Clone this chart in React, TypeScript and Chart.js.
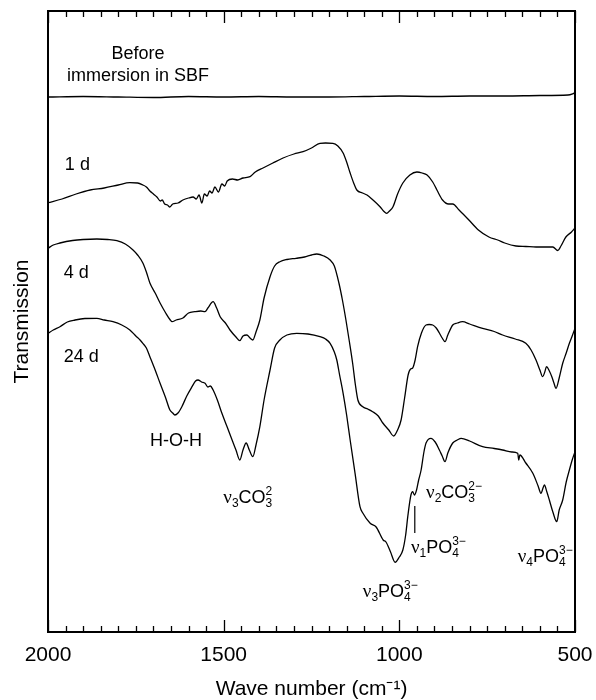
import React, { useEffect, useRef } from 'react';
import { Chart, registerables } from 'chart.js';

Chart.register(...registerables);

// Wavenumber (cm-1) and relative transmission (arbitrary units, offset curves)
const beforeWn = [2000, 1900, 1800, 1700, 1600, 1500, 1400, 1300, 1200, 1100, 1000, 900, 800, 700, 600, 520, 500];
const beforeT = [535, 535.5, 535, 534.5, 535.5, 535, 535.5, 535, 535, 535.5, 536, 535.5, 536, 536, 536.5, 537, 539];

const d1Wn = [2000, 1960, 1920, 1880, 1840, 1800, 1767, 1745, 1730, 1720, 1710, 1700, 1690, 1680, 1675, 1668, 1660, 1653, 1645, 1630, 1616, 1600, 1587, 1578, 1570, 1562, 1555, 1547, 1540, 1533, 1525, 1515, 1505, 1497, 1490, 1475, 1460, 1445, 1425, 1410, 1388, 1360, 1331, 1300, 1274, 1250, 1226, 1210, 1189, 1175, 1160, 1150, 1140, 1130, 1121, 1105, 1092, 1075, 1055, 1045, 1036, 1028, 1018, 1005, 990, 970, 950, 935, 921, 905, 893, 877, 860, 848, 830, 802, 775, 745, 720, 700, 668, 640, 611, 590, 563, 549, 540, 526, 510, 500];
const d1T = [429.3, 433, 438, 442, 444, 447, 449.3, 449, 447, 445, 441, 438, 435, 431, 432, 428, 427, 425, 428, 429, 432, 434, 435, 433, 437, 429, 438, 436, 441, 439, 445, 440, 448, 446, 451, 453, 452, 454, 455.3, 460, 464, 469, 474, 478, 480.3, 484, 488.7, 489, 488.7, 486, 479, 470, 459, 449, 442, 439, 437, 432, 425.3, 421, 418.7, 421, 425.3, 438, 449, 457, 460, 459, 457, 450, 442, 432, 428, 428, 422, 412, 402, 395, 392, 389, 386, 385.5, 385, 385, 385, 381.5, 386, 395, 400, 404];

const d4Wn = [2000, 1985, 1966, 1930, 1900, 1861, 1830, 1804, 1780, 1758, 1745, 1730, 1720, 1710, 1695, 1681, 1665, 1652, 1647, 1635, 1616, 1600, 1582, 1565, 1553, 1545, 1530, 1520, 1510, 1495, 1482, 1465, 1454, 1445, 1434, 1425, 1417, 1408, 1397, 1385, 1368, 1355, 1340, 1320, 1294, 1270, 1250, 1235, 1215, 1197, 1185, 1172, 1162, 1152, 1142, 1133, 1125, 1118, 1104, 1090, 1076, 1060, 1047, 1030, 1016, 1005, 995, 985, 975, 968, 962, 955, 948, 937, 924, 915, 905, 895, 886, 878, 870, 862, 848, 835, 820, 800, 763, 730, 706, 670, 640, 625, 611, 600, 592, 586, 581, 573, 566, 560, 554, 545, 535, 525, 516, 508, 500];
const d4T = [383.7, 387, 389, 391.5, 392.5, 393, 392.5, 391.3, 388, 382, 377, 369, 360, 349, 339, 329, 319, 312, 310.3, 312, 314, 319, 320.3, 321, 320.3, 324, 330.3, 324, 315.3, 309, 302, 295, 291.3, 296, 297, 294, 292, 300, 312, 334, 355.3, 366, 370.3, 372.5, 373.7, 375, 377, 378, 376, 372, 366, 349, 332, 312, 290, 269, 247, 232, 225.3, 223, 220.3, 216, 209, 202, 196, 202, 212, 234, 257, 263, 264, 272, 285.3, 299, 307, 307.5, 307, 304, 299, 294, 290.3, 297, 307, 309, 310.3, 308, 303.7, 300.5, 297, 293, 288.7, 282, 272, 262, 255.3, 260, 265.3, 261, 255.3, 249, 243.7, 254, 268.7, 279, 288.7, 296, 303.7];

const d24Wn = [2000, 1985, 1966, 1945, 1923, 1895, 1861, 1840, 1815, 1790, 1767, 1750, 1738, 1730, 1720, 1710, 1695, 1681, 1665, 1653, 1645, 1639, 1630, 1619, 1605, 1590, 1580, 1573, 1563, 1553, 1545, 1538, 1530, 1518, 1505, 1490, 1476, 1465, 1454, 1445, 1436, 1427, 1417, 1408, 1397, 1385, 1368, 1355, 1340, 1320, 1292, 1260, 1226, 1210, 1197, 1185, 1178, 1170, 1160, 1150, 1140, 1126, 1112, 1104, 1083, 1066, 1046, 1038, 1025, 1012, 1000, 990, 982, 976, 967, 962, 957, 951, 945, 938, 930, 924, 910, 898, 886, 878, 870, 862, 848, 835, 824, 800, 763, 730, 706, 680, 663, 660, 657, 640, 620, 605, 597, 590, 587, 580, 573, 563, 552, 545, 535, 525, 516, 508, 500];
const d24T = [298.7, 302, 305.3, 310, 312, 313.5, 313.7, 312, 310.3, 307, 302, 296, 292, 288.7, 284, 275.3, 262, 248.7, 234, 222, 219, 217, 219, 225.3, 236, 245.3, 251, 252, 250, 248.7, 245, 246, 242, 232, 218.7, 205, 192, 182, 172, 182, 189, 182, 175.3, 187, 205.3, 232, 262, 284, 292, 297, 298.7, 298, 295.3, 293, 288.7, 280, 272, 257, 238.7, 217, 192, 158.7, 125.3, 119, 108.7, 105, 92, 90, 80, 69.7, 75, 82, 97, 115.3, 137, 140.3, 137, 142, 152, 162, 180, 189, 193.7, 190, 182, 176, 170.3, 179, 189, 192, 193.7, 191, 185.3, 183.5, 182, 180, 178.7, 172, 177, 169, 158.7, 146, 138.7, 145, 147, 140, 132, 120, 110.3, 122, 132, 150, 162, 172, 180.3];

const xTickValues = [2000, 1500, 1000, 500];

const SANS = '"Liberation Sans", Arial, Helvetica, sans-serif';
const SERIF = '"Liberation Serif", "Times New Roman", serif';

// Plain text labels (anchor in data coordinates)
const textLabels = [
  { text: 'Before', wn: 1744, t: 573.5, align: 'center' },
  { text: 'immersion in SBF', wn: 1744, t: 551, align: 'center' },
  { text: '1 d', wn: 1952, t: 462, align: 'left' },
  { text: '4 d', wn: 1955, t: 353.7, align: 'left' },
  { text: '24 d', wn: 1955, t: 270.3, align: 'left' },
  { text: 'H-O-H', wn: 1636, t: 186, align: 'center' },
];

// Chemical band labels: ν with subscript, ion with subscript/superscript
const chemLabels = [
  { wn: 1501, t: 128.7, n: '3', ion: 'CO', sub: '3', sup: '2' },
  { wn: 924, t: 133.7, n: '2', ion: 'CO', sub: '3', sup: '2−' },
  { wn: 967, t: 78.7, n: '1', ion: 'PO', sub: '4', sup: '3−' },
  { wn: 663, t: 70.3, n: '4', ion: 'PO', sub: '4', sup: '3−' },
  { wn: 1104, t: 35.3, n: '3', ion: 'PO', sub: '4', sup: '3−' },
];

const markerWn = 956;
const markerT = [126, 99];

function toXY(xs: number[], ys: number[]) {
  const n = Math.min(xs.length, ys.length);
  const out: { x: number; y: number }[] = [];
  for (let i = 0; i < n; i++) out.push({ x: xs[i], y: ys[i] });
  return out;
}

const framePlugin = {
  id: 'framePlugin',
  afterDraw(chart: any) {
    const { ctx, chartArea, scales } = chart;
    const xs = scales.x;
    const ys = scales.y;
    const { left, right, top, bottom } = chartArea;
    ctx.save();
    ctx.strokeStyle = '#000';
    ctx.lineWidth = 2;
    ctx.strokeRect(left, top, right - left, bottom - top);

    // inward ticks every 50 cm-1 on top and bottom
    ctx.lineWidth = 1.3;
    ctx.beginPath();
    for (let v = 500; v <= 2000; v += 50) {
      const px = Math.round(xs.getPixelForValue(v)) + 0.5;
      const len = v % 500 === 0 ? 12 : 6;
      ctx.moveTo(px, bottom);
      ctx.lineTo(px, bottom - len);
      ctx.moveTo(px, top);
      ctx.lineTo(px, top + len);
    }
    ctx.stroke();

    ctx.fillStyle = '#000';
    ctx.textBaseline = 'alphabetic';
    ctx.font = `18px ${SANS}`;
    for (const l of textLabels) {
      ctx.textAlign = l.align as CanvasTextAlign;
      ctx.fillText(l.text, xs.getPixelForValue(l.wn), ys.getPixelForValue(l.t));
    }

    ctx.textAlign = 'left';
    const size = 18;
    const small = 12;
    for (const c of chemLabels) {
      let x = xs.getPixelForValue(c.wn);
      const y = ys.getPixelForValue(c.t);
      ctx.font = `${size + 1}px ${SERIF}`;
      ctx.fillText('ν', x, y);
      x += ctx.measureText('ν').width;
      ctx.font = `${small}px ${SANS}`;
      ctx.fillText(c.n, x, y + 4);
      x += ctx.measureText(c.n).width;
      ctx.font = `${size}px ${SANS}`;
      ctx.fillText(c.ion, x, y);
      x += ctx.measureText(c.ion).width;
      ctx.font = `${small}px ${SANS}`;
      ctx.fillText(c.sub, x, y + 4);
      ctx.fillText(c.sup, x, y - 8);
    }

    // marker line for v1 PO4
    ctx.lineWidth = 1.2;
    ctx.beginPath();
    const mx = xs.getPixelForValue(markerWn);
    ctx.moveTo(mx, ys.getPixelForValue(markerT[0]));
    ctx.lineTo(mx, ys.getPixelForValue(markerT[1]));
    ctx.stroke();
    ctx.restore();
  },
};

export default function App() {
  const ref = useRef<HTMLCanvasElement>(null);
  useEffect(() => {
    document.body.style.margin = '0';
    const canvas = ref.current!;
    const lineStyle = {
      borderColor: '#000',
      borderWidth: 1.3,
      pointRadius: 0,
      cubicInterpolationMode: 'monotone',
      fill: false,
    };
    const chart = new Chart(canvas, {
      type: 'line',
      data: {
        datasets: [
          { label: 'Before immersion in SBF', data: toXY(beforeWn, beforeT), ...lineStyle },
          { label: '1 d', data: toXY(d1Wn, d1T), ...lineStyle },
          { label: '4 d', data: toXY(d4Wn, d4T), ...lineStyle },
          { label: '24 d', data: toXY(d24Wn, d24T), ...lineStyle },
        ],
      },
      options: {
        responsive: false,
        animation: false,
        events: [],
        layout: { padding: { left: 0, right: 21, top: 11, bottom: 0 } },
        plugins: { legend: { display: false }, tooltip: { enabled: false } },
        scales: {
          x: {
            type: 'linear',
            min: 500,
            max: 2000,
            reverse: true,
            position: 'bottom',
            grid: { display: false, drawTicks: false },
            border: { display: false },
            afterBuildTicks: (scale: any) => {
              scale.ticks = xTickValues.map((v) => ({ value: v }));
            },
            afterFit: (scale: any) => {
              scale.height = 68;
              scale.paddingLeft = 0;
              scale.paddingRight = 0;
            },
            ticks: {
              color: '#000',
              font: { family: SANS, size: 21 },
              padding: 11,
              maxRotation: 0,
              autoSkip: false,
              callback: (v: any) => String(v),
            },
            title: {
              display: true,
              text: 'Wave number (cm⁻¹)',
              color: '#000',
              font: { family: SANS, size: 21 },
              padding: { top: 0, bottom: -2 },
            },
          },
          y: {
            type: 'linear',
            min: 0,
            max: 621,
            grid: { display: false, drawTicks: false },
            border: { display: false },
            ticks: { display: false },
            afterFit: (scale: any) => {
              scale.width = 48;
              scale.paddingTop = 0;
              scale.paddingBottom = 0;
            },
            title: {
              display: true,
              text: 'Transmission',
              color: '#000',
              font: { family: SANS, size: 21 },
              padding: { top: 10, bottom: 0 },
            },
          },
        },
      },
      plugins: [framePlugin],
    } as any);
    return () => chart.destroy();
  }, []);
  return (
    <div style={{ width: 596, height: 700, overflow: 'hidden', background: '#fff' }}>
      <canvas ref={ref} width={596} height={700} style={{ display: 'block' }} />
    </div>
  );
}
